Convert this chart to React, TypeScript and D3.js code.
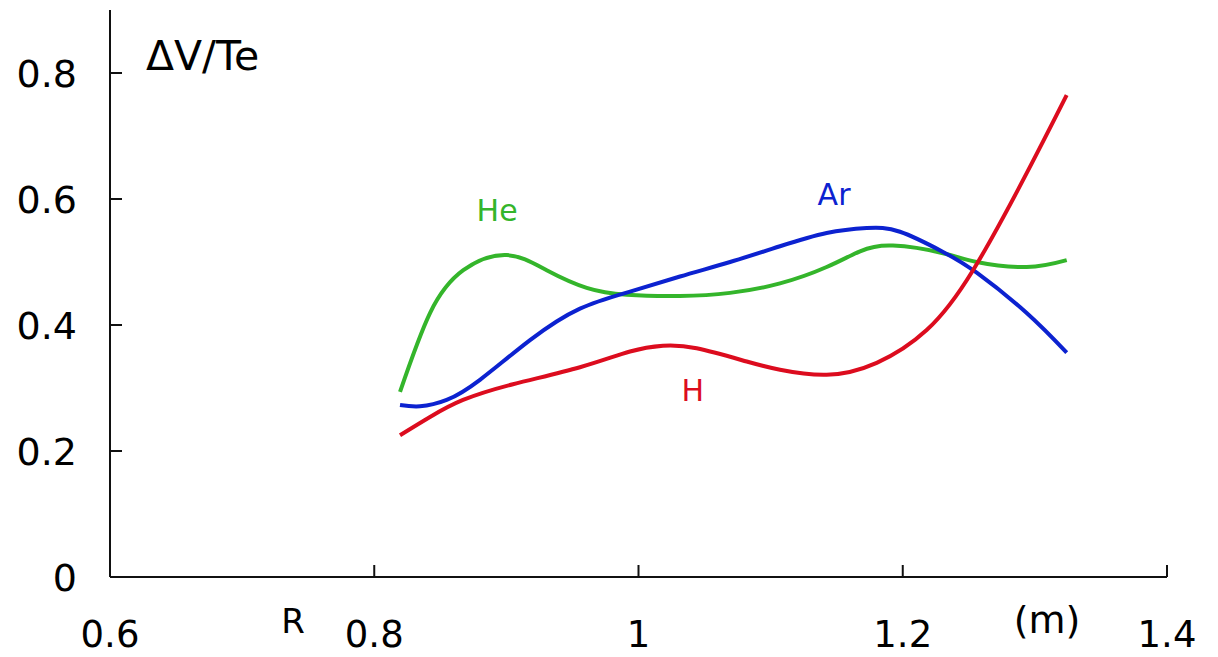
import React from "react";
import * as d3 from "d3";

const xTicks = [0.6, 0.8, 1, 1.2, 1.4];
const xTickLabels = ["0.6", "0.8", "1", "1.2", "1.4"];
const yTicks = [0, 0.2, 0.4, 0.6, 0.8];
const yTickLabels = ["0", "0.2", "0.4", "0.6", "0.8"];

const heX = [0.8195, 0.8422, 0.8674, 0.9003, 0.9305, 0.9608, 0.9911, 1.0314, 1.0693, 1.1071, 1.1424, 1.1677, 1.1926, 1.2305, 1.256, 1.2938, 1.3241];
const heY = [0.294, 0.419, 0.487, 0.511, 0.487, 0.459, 0.448, 0.446, 0.451, 0.466, 0.492, 0.517, 0.526, 0.514, 0.5, 0.492, 0.503];

const arX = [0.8195, 0.8346, 0.8548, 0.88, 0.9179, 0.9557, 0.9936, 1.0314, 1.0693, 1.1071, 1.1424, 1.1727, 1.1979, 1.2305, 1.256, 1.2938, 1.3241];
const arY = [0.273, 0.271, 0.281, 0.313, 0.376, 0.426, 0.453, 0.477, 0.5, 0.525, 0.546, 0.554, 0.548, 0.516, 0.483, 0.419, 0.356];

const hX = [0.8195, 0.8422, 0.8672, 0.905, 0.9557, 0.9936, 1.0185, 1.044, 1.0819, 1.1071, 1.1424, 1.1803, 1.2181, 1.2532, 1.2938, 1.3241];
const hY = [0.225, 0.254, 0.281, 0.306, 0.333, 0.358, 0.367, 0.363, 0.342, 0.329, 0.321, 0.34, 0.392, 0.487, 0.641, 0.765];

const series = [
  { name: "He", xs: heX, ys: heY, color: "#34b52b" },
  { name: "Ar", xs: arX, ys: arY, color: "#0c22d0" },
  { name: "H", xs: hX, ys: hY, color: "#dc0c1e" },
];

const labels = [
  { text: "He", x: 0.893, y: 0.565, color: "#34b52b" },
  { text: "Ar", x: 1.148, y: 0.59, color: "#0c22d0" },
  { text: "H", x: 1.041, y: 0.279, color: "#dc0c1e" },
];

export default function App() {
  const W = 1218;
  const H = 657;
  const x = d3.scaleLinear().domain([0.6, 1.4]).range([110, 1167]);
  const y = d3.scaleLinear().domain([0, 0.8]).range([577, 73]);
  const font = "'DejaVu Sans', Verdana, sans-serif";

  const line = d3
    .line<[number, number]>()
    .x((d) => x(d[0]))
    .y((d) => y(d[1]))
    .curve(d3.curveNatural);

  return (
    <svg
      width={W}
      height={H}
      style={{ position: "absolute", left: 0, top: 0, background: "#fff" }}
      fontFamily={font}
    >
      <line x1={x(0.6)} x2={x(0.6)} y1={10} y2={y(0)} stroke="#111" strokeWidth={2} />
      <line x1={x(0.6)} x2={x(1.4)} y1={y(0)} y2={y(0)} stroke="#111" strokeWidth={2} />
      {yTicks.map((t, i) => (
        <g key={"y" + i}>
          <line x1={x(0.6)} x2={x(0.6) + 12} y1={y(t)} y2={y(t)} stroke="#111" strokeWidth={2} />
          <text x={77} y={y(t) + 13.5} textAnchor="end" fontSize={38} fill="#000">
            {yTickLabels[i]}
          </text>
        </g>
      ))}
      {xTicks.map((t, i) => (
        <g key={"x" + i}>
          {i > 0 && (
            <line x1={x(t)} x2={x(t)} y1={y(0)} y2={y(0) - 12} stroke="#111" strokeWidth={2} />
          )}
          <text x={x(t)} y={647} textAnchor="middle" fontSize={37} fill="#000">
            {xTickLabels[i]}
          </text>
        </g>
      ))}
      <text x={293} y={633} textAnchor="middle" fontSize={34} fill="#000">
        R
      </text>
      <text x={1047} y={633} textAnchor="middle" fontSize={38} fill="#000">
        (m)
      </text>
      <text x={146} y={70} fontSize={41} fill="#000">
        ΔV/Te
      </text>

      {series.map((s) => (
        <path
          key={s.name}
          d={line(s.xs.map((v, i) => [v, s.ys[i]] as [number, number])) || ""}
          fill="none"
          stroke={s.color}
          strokeWidth={4}
        />
      ))}
      {labels.map((l) => (
        <text key={l.text} x={x(l.x)} y={y(l.y)} textAnchor="middle" fontSize={30} fill={l.color}>
          {l.text}
        </text>
      ))}
    </svg>
  );
}
